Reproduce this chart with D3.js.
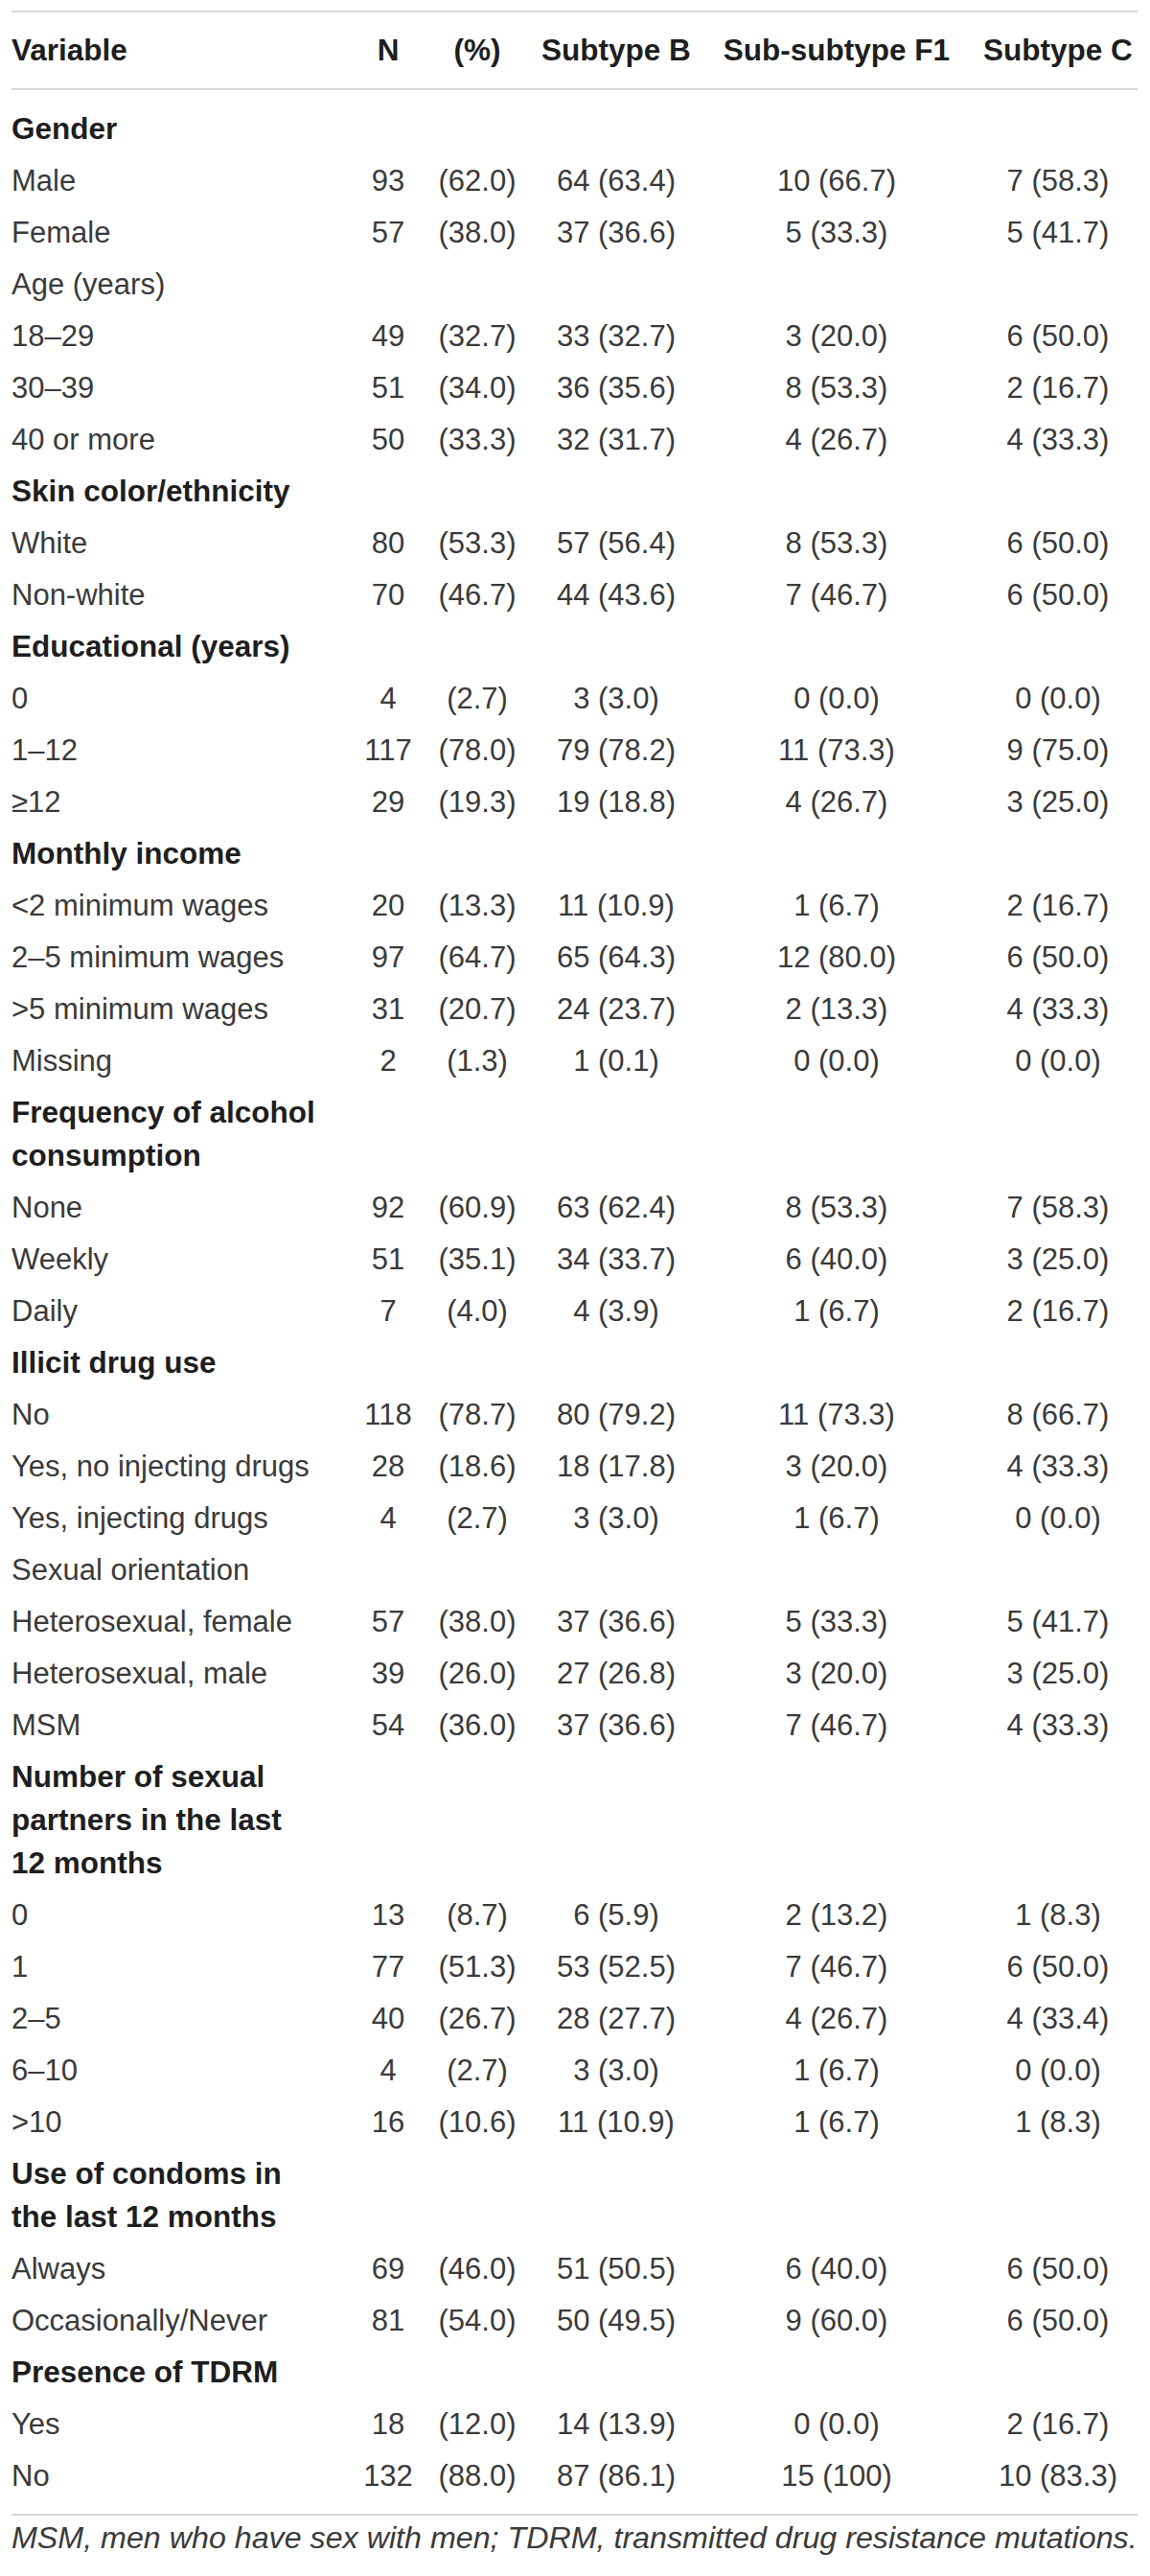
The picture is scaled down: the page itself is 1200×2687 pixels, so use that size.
<!DOCTYPE html>
<html>
<head>
<meta charset="utf-8">
<script src="https://cdn.jsdelivr.net/npm/d3@7/dist/d3.min.js"></script>
<style>
  html, body { margin: 0; padding: 0; background: #fff; }
  svg { display: block; }
</style>
</head>
<body>
<svg id="chart" width="1200" height="2687"></svg>
<script>
// ---- data ----
const columns = ["Variable", "N", "(%)", "Subtype B", "Sub-subtype F1", "Subtype C"];

const labels = [
  "Gender", "Male", "Female", "Age (years)", "18–29", "30–39", "40 or more",
  "Skin color/ethnicity", "White", "Non-white",
  "Educational (years)", "0", "1–12", "≥12",
  "Monthly income", "<2 minimum wages", "2–5 minimum wages", ">5 minimum wages", "Missing",
  "Frequency of alcohol\nconsumption", "None", "Weekly", "Daily",
  "Illicit drug use", "No", "Yes, no injecting drugs", "Yes, injecting drugs",
  "Sexual orientation", "Heterosexual, female", "Heterosexual, male", "MSM",
  "Number of sexual\npartners in the last\n12 months", "0", "1", "2–5", "6–10", ">10",
  "Use of condoms in\nthe last 12 months", "Always", "Occasionally/Never",
  "Presence of TDRM", "Yes", "No"
];

// "h" = bold section heading, "s" = plain subheading, "d" = data row
const rowTypes = [
  "h","d","d","s","d","d","d",
  "h","d","d",
  "h","d","d","d",
  "h","d","d","d","d",
  "h","d","d","d",
  "h","d","d","d",
  "s","d","d","d",
  "h","d","d","d","d","d",
  "h","d","d",
  "h","d","d"
];

const nCount  = [null,93,57,null,49,51,50, null,80,70, null,4,117,29, null,20,97,31,2, null,92,51,7, null,118,28,4, null,57,39,54, null,13,77,40,4,16, null,69,81, null,18,132];
const nPct    = [null,62.0,38.0,null,32.7,34.0,33.3, null,53.3,46.7, null,2.7,78.0,19.3, null,13.3,64.7,20.7,1.3, null,60.9,35.1,4.0, null,78.7,18.6,2.7, null,38.0,26.0,36.0, null,8.7,51.3,26.7,2.7,10.6, null,46.0,54.0, null,12.0,88.0];
const bCount  = [null,64,37,null,33,36,32, null,57,44, null,3,79,19, null,11,65,24,1, null,63,34,4, null,80,18,3, null,37,27,37, null,6,53,28,3,11, null,51,50, null,14,87];
const bPct    = [null,63.4,36.6,null,32.7,35.6,31.7, null,56.4,43.6, null,3.0,78.2,18.8, null,10.9,64.3,23.7,0.1, null,62.4,33.7,3.9, null,79.2,17.8,3.0, null,36.6,26.8,36.6, null,5.9,52.5,27.7,3.0,10.9, null,50.5,49.5, null,13.9,86.1];
const f1Count = [null,10,5,null,3,8,4, null,8,7, null,0,11,4, null,1,12,2,0, null,8,6,1, null,11,3,1, null,5,3,7, null,2,7,4,1,1, null,6,9, null,0,15];
const f1Pct   = [null,66.7,33.3,null,20.0,53.3,26.7, null,53.3,46.7, null,0.0,73.3,26.7, null,6.7,80.0,13.3,0.0, null,53.3,40.0,6.7, null,73.3,20.0,6.7, null,33.3,20.0,46.7, null,13.2,46.7,26.7,6.7,6.7, null,40.0,60.0, null,0.0,100];
const cCount  = [null,7,5,null,6,2,4, null,6,6, null,0,9,3, null,2,6,4,0, null,7,3,2, null,8,4,0, null,5,3,4, null,1,6,4,0,1, null,6,6, null,2,10];
const cPct    = [null,58.3,41.7,null,50.0,16.7,33.3, null,50.0,50.0, null,0.0,75.0,25.0, null,16.7,50.0,33.3,0.0, null,58.3,25.0,16.7, null,66.7,33.3,0.0, null,41.7,25.0,33.3, null,8.3,50.0,33.4,0.0,8.3, null,50.0,50.0, null,16.7,83.3];

const footnote = "MSM, men who have sex with men; TDRM, transmitted drug resistance mutations.";

// ---- layout ----
const left = 12, right = 1187;
const FONT = "'Liberation Sans', Arial, Helvetica, sans-serif";
const FS = 31, FSB = 31.5;
const rowStep = 54, lineStep = 45;
const bodyColor = "#3a3a3a", boldColor = "#1e1e1e", ruleColor = "#cccccc";
const firstBaseline = 145;

const svg = d3.select("#chart");

// column x positions (start for label column, centers for numeric columns)
const colX = d3.scaleOrdinal()
  .domain(columns)
  .range([left, 405, 498, 643, 873, 1104]);

const fmt1 = d3.format(".1f");
const pctStr = p => p === 100 ? "100" : fmt1(p);

const rows = labels.map((lab, i) => ({
  label: lab.split("\n"),
  type: rowTypes[i],
  cells: rowTypes[i] === "d" ? [
    String(nCount[i]),
    "(" + pctStr(nPct[i]) + ")",
    bCount[i] + " (" + pctStr(bPct[i]) + ")",
    f1Count[i] + " (" + pctStr(f1Pct[i]) + ")",
    cCount[i] + " (" + pctStr(cPct[i]) + ")"
  ] : null
}));

// vertical position: cumulative offset in pixels mapped through a linear scale
let acc = 0;
rows.forEach(r => { r.offset = acc; acc += rowStep + lineStep * (r.label.length - 1); });
const y = d3.scaleLinear().domain([0, 1]).range([firstBaseline, firstBaseline + 1]);
rows.forEach(r => { r.y = y(r.offset); });

// rules
const topRule = 12, headRule = 93;
const bottomRule = rows[rows.length - 1].y + 30;
[topRule, headRule, bottomRule].forEach(yy => {
  svg.append("line")
    .attr("x1", left).attr("x2", right)
    .attr("y1", yy).attr("y2", yy)
    .attr("stroke", ruleColor).attr("stroke-width", 1.6);
});

// header
svg.append("g").selectAll("text")
  .data(columns)
  .join("text")
  .attr("x", d => colX(d))
  .attr("y", 63)
  .attr("text-anchor", (d, i) => i === 0 ? "start" : "middle")
  .attr("font-family", FONT)
  .attr("font-size", FSB)
  .attr("font-weight", 700)
  .attr("fill", boldColor)
  .text(d => d);

// body rows
const rowG = svg.append("g").selectAll("g.row").data(rows).join("g").attr("class", "row");

rowG.append("text")
  .attr("x", left)
  .attr("y", d => d.y)
  .attr("font-family", FONT)
  .attr("font-size", d => d.type === "h" ? FSB : FS)
  .attr("font-weight", d => d.type === "h" ? 700 : 400)
  .attr("fill", d => d.type === "h" ? boldColor : bodyColor)
  .selectAll("tspan")
  .data(d => d.label)
  .join("tspan")
  .attr("x", left)
  .attr("dy", (d, i) => i === 0 ? 0 : lineStep)
  .text(d => d);

rowG.filter(d => d.cells)
  .selectAll("text.cell")
  .data(d => d.cells.map((c, j) => ({ c, col: columns[j + 1], y: d.y })))
  .join("text")
  .attr("class", "cell")
  .attr("x", d => colX(d.col))
  .attr("y", d => d.y)
  .attr("text-anchor", "middle")
  .attr("font-family", FONT)
  .attr("font-size", FS)
  .attr("fill", bodyColor)
  .text(d => d.c);

// footnote
const fn = svg.append("text")
  .attr("x", left)
  .attr("y", bottomRule + 35)
  .attr("font-family", FONT)
  .attr("font-size", FS)
  .attr("font-style", "italic")
  .attr("fill", bodyColor)
  .text(footnote);
const fw = fn.node().getComputedTextLength();
if (fw > 0) fn.attr("font-size", FS * (right - left) / fw);
</script>
</body>
</html>
